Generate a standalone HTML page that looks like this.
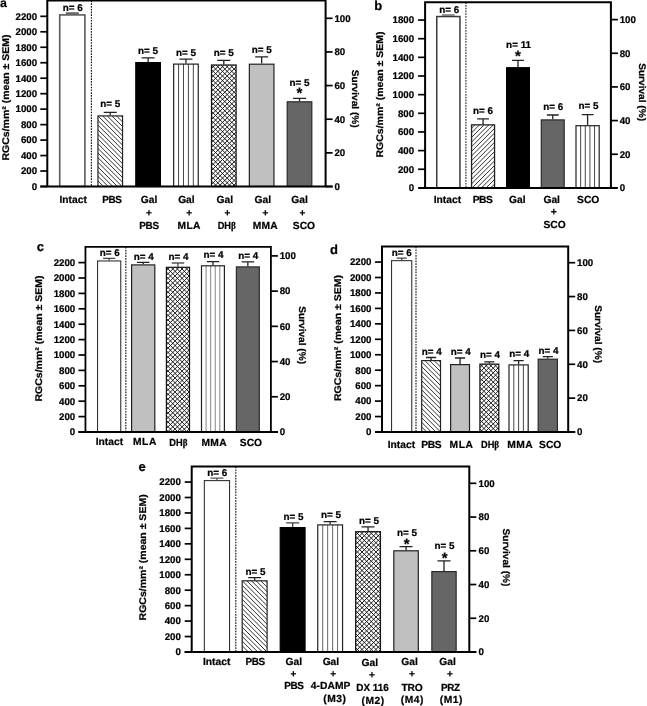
<!DOCTYPE html>
<html><head><meta charset="utf-8"><title>Figure</title>
<style>
html,body{margin:0;padding:0;background:#fff;}
body{width:647px;height:706px;overflow:hidden;}
svg{display:block;}
svg text{font-family:"Liberation Sans", Arial, sans-serif;font-weight:bold;fill:#000;stroke:#000;stroke-width:0.22px;text-rendering:geometricPrecision;}
</style></head><body>
<svg width="647" height="706" viewBox="0 0 647 706">
<rect width="647" height="706" fill="#fff"/>
<path d="M72.30 14.10V13.10M65.80 13.10H78.80" stroke="#666" stroke-width="1.8" fill="none"/>
<rect x="59.70" y="14.90" width="25.20" height="171.60" fill="#ffffff"/>
<rect x="59.70" y="14.90" width="25.20" height="171.60" fill="none" stroke="#5a5a5a" stroke-width="1.6"/>
<text x="72.70" y="10.60" font-size="9.9" text-anchor="middle" >n= 6</text>
<path d="M110.25 115.30V112.40M103.75 112.40H116.75" stroke="#222222" stroke-width="1.3" fill="none"/>
<rect x="97.95" y="115.90" width="24.60" height="70.60" fill="#ffffff"/>
<clipPath id="c1"><rect x="97.95" y="115.90" width="24.60" height="70.60"/></clipPath>
<path clip-path="url(#c1)" d="M26.75 114.30L99.95 187.50M31.39 114.30L104.59 187.50M36.03 114.30L109.23 187.50M40.67 114.30L113.87 187.50M45.31 114.30L118.51 187.50M49.95 114.30L123.15 187.50M54.59 114.30L127.79 187.50M59.23 114.30L132.43 187.50M63.87 114.30L137.07 187.50M68.51 114.30L141.71 187.50M73.15 114.30L146.35 187.50M77.79 114.30L150.99 187.50M82.43 114.30L155.63 187.50M87.07 114.30L160.27 187.50M91.71 114.30L164.91 187.50M96.35 114.30L169.55 187.50M100.99 114.30L174.19 187.50M105.63 114.30L178.83 187.50M110.27 114.30L183.47 187.50M114.91 114.30L188.11 187.50M119.55 114.30L192.75 187.50" stroke="#1a1a1a" stroke-width="0.9" fill="none"/>
<rect x="97.95" y="115.90" width="24.60" height="70.60" fill="none" stroke="#222222" stroke-width="1.2"/>
<text x="110.25" y="107.40" font-size="9.9" text-anchor="middle" >n= 5</text>
<path d="M148.10 62.00V57.80M141.60 57.80H154.60" stroke="#222222" stroke-width="1.3" fill="none"/>
<rect x="135.80" y="62.60" width="24.60" height="123.90" fill="#000000"/>
<rect x="135.80" y="62.60" width="24.60" height="123.90" fill="none" stroke="#000000" stroke-width="1.2"/>
<text x="148.10" y="53.80" font-size="9.9" text-anchor="middle" >n= 5</text>
<path d="M185.95 63.50V59.20M179.45 59.20H192.45" stroke="#222222" stroke-width="1.3" fill="none"/>
<rect x="173.65" y="64.10" width="24.60" height="122.40" fill="#ffffff"/>
<clipPath id="c2"><rect x="173.65" y="64.10" width="24.60" height="122.40"/></clipPath>
<path clip-path="url(#c2)" d="M178.57 63.50V186.50M183.49 63.50V186.50M188.41 63.50V186.50M193.33 63.50V186.50" stroke="#333" stroke-width="0.9" fill="none"/>
<rect x="173.65" y="64.10" width="24.60" height="122.40" fill="none" stroke="#222222" stroke-width="1.2"/>
<text x="185.95" y="55.60" font-size="9.9" text-anchor="middle" >n= 5</text>
<path d="M223.80 64.40V60.40M217.30 60.40H230.30" stroke="#222222" stroke-width="1.3" fill="none"/>
<rect x="211.50" y="65.00" width="24.60" height="121.50" fill="#ffffff"/>
<clipPath id="c3"><rect x="211.50" y="65.00" width="24.60" height="121.50"/></clipPath>
<path clip-path="url(#c3)" d="M89.26 63.40L213.36 187.50M93.90 63.40L218.00 187.50M98.54 63.40L222.64 187.50M103.18 63.40L227.28 187.50M107.82 63.40L231.92 187.50M112.46 63.40L236.56 187.50M117.10 63.40L241.20 187.50M121.74 63.40L245.84 187.50M126.38 63.40L250.48 187.50M131.02 63.40L255.12 187.50M135.66 63.40L259.76 187.50M140.30 63.40L264.40 187.50M144.94 63.40L269.04 187.50M149.58 63.40L273.68 187.50M154.22 63.40L278.32 187.50M158.86 63.40L282.96 187.50M163.50 63.40L287.60 187.50M168.14 63.40L292.24 187.50M172.78 63.40L296.88 187.50M177.42 63.40L301.52 187.50M182.06 63.40L306.16 187.50M186.70 63.40L310.80 187.50M191.34 63.40L315.44 187.50M195.98 63.40L320.08 187.50M200.62 63.40L324.72 187.50M205.26 63.40L329.36 187.50M209.90 63.40L334.00 187.50M214.54 63.40L338.64 187.50M219.18 63.40L343.28 187.50M223.82 63.40L347.92 187.50M228.46 63.40L352.56 187.50M233.10 63.40L357.20 187.50M211.90 63.40L87.80 187.50M216.54 63.40L92.44 187.50M221.18 63.40L97.08 187.50M225.82 63.40L101.72 187.50M230.46 63.40L106.36 187.50M235.10 63.40L111.00 187.50M239.74 63.40L115.64 187.50M244.38 63.40L120.28 187.50M249.02 63.40L124.92 187.50M253.66 63.40L129.56 187.50M258.30 63.40L134.20 187.50M262.94 63.40L138.84 187.50M267.58 63.40L143.48 187.50M272.22 63.40L148.12 187.50M276.86 63.40L152.76 187.50M281.50 63.40L157.40 187.50M286.14 63.40L162.04 187.50M290.78 63.40L166.68 187.50M295.42 63.40L171.32 187.50M300.06 63.40L175.96 187.50M304.70 63.40L180.60 187.50M309.34 63.40L185.24 187.50M313.98 63.40L189.88 187.50M318.62 63.40L194.52 187.50M323.26 63.40L199.16 187.50M327.90 63.40L203.80 187.50M332.54 63.40L208.44 187.50M337.18 63.40L213.08 187.50M341.82 63.40L217.72 187.50M346.46 63.40L222.36 187.50M351.10 63.40L227.00 187.50M355.74 63.40L231.64 187.50M360.38 63.40L236.28 187.50" stroke="#111" stroke-width="0.95" fill="none"/>
<rect x="211.50" y="65.00" width="24.60" height="121.50" fill="none" stroke="#111111" stroke-width="1.2"/>
<text x="223.80" y="56.20" font-size="9.9" text-anchor="middle" >n= 5</text>
<path d="M261.65 63.60V56.80M255.15 56.80H268.15" stroke="#222222" stroke-width="1.3" fill="none"/>
<rect x="249.35" y="64.20" width="24.60" height="122.30" fill="#c0c0c0"/>
<rect x="249.35" y="64.20" width="24.60" height="122.30" fill="none" stroke="#222222" stroke-width="1.2"/>
<text x="261.65" y="52.80" font-size="9.9" text-anchor="middle" >n= 5</text>
<path d="M299.50 101.20V98.30M293.00 98.30H306.00" stroke="#222222" stroke-width="1.3" fill="none"/>
<rect x="287.20" y="101.80" width="24.60" height="84.70" fill="#666666"/>
<rect x="287.20" y="101.80" width="24.60" height="84.70" fill="none" stroke="#2a2a2a" stroke-width="1.2"/>
<text x="299.50" y="86.00" font-size="9.9" text-anchor="middle" >n= 5</text>
<text x="299.50" y="98.00" font-size="15" text-anchor="middle" >*</text>
<line x1="91.40" y1="0.45" x2="91.40" y2="186.50" stroke="#111" stroke-width="1.1" stroke-dasharray="1.7 1.08"/>
<path d="M47.30 186.50V0.45H325.60V186.50" fill="none" stroke="#000" stroke-width="2.0" stroke-linejoin="miter"/>
<line x1="40.30" y1="186.50" x2="332.60" y2="186.50" stroke="#000" stroke-width="2.0"/>
<line x1="40.30" y1="186.50" x2="47.30" y2="186.50" stroke="#000" stroke-width="1.7"/>
<text x="37.10" y="189.80" font-size="9.7" text-anchor="end" >0</text>
<line x1="40.30" y1="171.03" x2="47.30" y2="171.03" stroke="#000" stroke-width="1.7"/>
<text x="37.10" y="174.33" font-size="9.7" text-anchor="end" >200</text>
<line x1="40.30" y1="155.56" x2="47.30" y2="155.56" stroke="#000" stroke-width="1.7"/>
<text x="37.10" y="158.86" font-size="9.7" text-anchor="end" >400</text>
<line x1="40.30" y1="140.09" x2="47.30" y2="140.09" stroke="#000" stroke-width="1.7"/>
<text x="37.10" y="143.39" font-size="9.7" text-anchor="end" >600</text>
<line x1="40.30" y1="124.62" x2="47.30" y2="124.62" stroke="#000" stroke-width="1.7"/>
<text x="37.10" y="127.92" font-size="9.7" text-anchor="end" >800</text>
<line x1="40.30" y1="109.15" x2="47.30" y2="109.15" stroke="#000" stroke-width="1.7"/>
<text x="37.10" y="112.45" font-size="9.7" text-anchor="end" >1000</text>
<line x1="40.30" y1="93.68" x2="47.30" y2="93.68" stroke="#000" stroke-width="1.7"/>
<text x="37.10" y="96.98" font-size="9.7" text-anchor="end" >1200</text>
<line x1="40.30" y1="78.21" x2="47.30" y2="78.21" stroke="#000" stroke-width="1.7"/>
<text x="37.10" y="81.51" font-size="9.7" text-anchor="end" >1400</text>
<line x1="40.30" y1="62.74" x2="47.30" y2="62.74" stroke="#000" stroke-width="1.7"/>
<text x="37.10" y="66.04" font-size="9.7" text-anchor="end" >1600</text>
<line x1="40.30" y1="47.27" x2="47.30" y2="47.27" stroke="#000" stroke-width="1.7"/>
<text x="37.10" y="50.57" font-size="9.7" text-anchor="end" >1800</text>
<line x1="40.30" y1="31.80" x2="47.30" y2="31.80" stroke="#000" stroke-width="1.7"/>
<text x="37.10" y="35.10" font-size="9.7" text-anchor="end" >2000</text>
<line x1="40.30" y1="16.33" x2="47.30" y2="16.33" stroke="#000" stroke-width="1.7"/>
<text x="37.10" y="19.63" font-size="9.7" text-anchor="end" >2200</text>
<line x1="325.60" y1="186.50" x2="332.60" y2="186.50" stroke="#000" stroke-width="1.7"/>
<text x="334.40" y="189.80" font-size="9.7" text-anchor="start" >0</text>
<line x1="325.60" y1="152.86" x2="332.60" y2="152.86" stroke="#000" stroke-width="1.7"/>
<text x="334.40" y="156.16" font-size="9.7" text-anchor="start" >20</text>
<line x1="325.60" y1="119.22" x2="332.60" y2="119.22" stroke="#000" stroke-width="1.7"/>
<text x="334.40" y="122.52" font-size="9.7" text-anchor="start" >40</text>
<line x1="325.60" y1="85.58" x2="332.60" y2="85.58" stroke="#000" stroke-width="1.7"/>
<text x="334.40" y="88.88" font-size="9.7" text-anchor="start" >60</text>
<line x1="325.60" y1="51.94" x2="332.60" y2="51.94" stroke="#000" stroke-width="1.7"/>
<text x="334.40" y="55.24" font-size="9.7" text-anchor="start" >80</text>
<line x1="325.60" y1="18.30" x2="332.60" y2="18.30" stroke="#000" stroke-width="1.7"/>
<text x="334.40" y="21.60" font-size="9.7" text-anchor="start" >100</text>
<text transform="translate(8.60 97.50) rotate(-90) scale(1.085 1)" font-size="9.7" text-anchor="middle">RGCs/mm² (mean ± SEM)</text>
<text transform="translate(352.30 98.70) rotate(90) scale(1.045 1)" font-size="9.7" text-anchor="middle">Survival (%)</text>
<text x="0.00" y="6.90" font-size="12.3" text-anchor="start" >a</text>
<text x="73.20" y="203.10" font-size="10.25" text-anchor="middle" >Intact</text>
<text transform="translate(111.80 203.00) scale(0.97 1)" font-size="10.25" text-anchor="middle" letter-spacing="-0.4">PBS</text>
<text x="149.00" y="203.30" font-size="10.25" text-anchor="middle" >Gal</text>
<text x="148.80" y="215.80" font-size="10.0" text-anchor="middle" >+</text>
<text transform="translate(149.00 229.00) scale(0.97 1)" font-size="10.25" text-anchor="middle" letter-spacing="-0.4">PBS</text>
<text x="186.40" y="203.30" font-size="10.25" text-anchor="middle" >Gal</text>
<text x="189.20" y="215.80" font-size="10.0" text-anchor="middle" >+</text>
<text x="189.20" y="229.00" font-size="10.25" text-anchor="middle" letter-spacing="0.45">MLA</text>
<text x="224.85" y="203.30" font-size="10.25" text-anchor="middle" >Gal</text>
<text x="227.45" y="215.80" font-size="10.0" text-anchor="middle" >+</text>
<text transform="translate(226.80 229.30) scale(0.9 1)" font-size="10.25" text-anchor="middle" >DH<tspan font-family="Liberation Serif, DejaVu Serif, serif">β</tspan></text>
<text x="262.80" y="202.70" font-size="10.25" text-anchor="middle" >Gal</text>
<text x="265.30" y="215.50" font-size="10.0" text-anchor="middle" >+</text>
<text x="265.35" y="228.70" font-size="10.25" text-anchor="middle" letter-spacing="0.3">MMA</text>
<text x="299.50" y="202.70" font-size="10.25" text-anchor="middle" >Gal</text>
<text x="302.40" y="215.50" font-size="10.0" text-anchor="middle" >+</text>
<text x="303.95" y="228.80" font-size="10.25" text-anchor="middle" >SCO</text>
<path d="M448.35 15.80V15.00M442.05 15.00H454.65" stroke="#777" stroke-width="1.5" fill="none"/>
<rect x="436.75" y="16.55" width="23.20" height="171.35" fill="#ffffff"/>
<rect x="436.75" y="16.55" width="23.20" height="171.35" fill="none" stroke="#3a3a3a" stroke-width="1.5"/>
<text x="449.35" y="12.90" font-size="9.9" text-anchor="middle" >n= 6</text>
<path d="M483.05 124.20V118.80M477.15 118.80H488.95" stroke="#222222" stroke-width="1.3" fill="none"/>
<rect x="471.55" y="124.85" width="23.00" height="63.05" fill="#ffffff"/>
<clipPath id="c4"><rect x="471.55" y="124.85" width="23.00" height="63.05"/></clipPath>
<path clip-path="url(#c4)" d="M471.86 123.20L406.16 188.90M476.50 123.20L410.80 188.90M481.14 123.20L415.44 188.90M485.78 123.20L420.08 188.90M490.42 123.20L424.72 188.90M495.06 123.20L429.36 188.90M499.70 123.20L434.00 188.90M504.34 123.20L438.64 188.90M508.98 123.20L443.28 188.90M513.62 123.20L447.92 188.90M518.26 123.20L452.56 188.90M522.90 123.20L457.20 188.90M527.54 123.20L461.84 188.90M532.18 123.20L466.48 188.90M536.82 123.20L471.12 188.90M541.46 123.20L475.76 188.90M546.10 123.20L480.40 188.90M550.74 123.20L485.04 188.90M555.38 123.20L489.68 188.90M560.02 123.20L494.32 188.90" stroke="#1a1a1a" stroke-width="0.9" fill="none"/>
<rect x="471.55" y="124.85" width="23.00" height="63.05" fill="none" stroke="#222222" stroke-width="1.3"/>
<text x="483.05" y="114.00" font-size="9.9" text-anchor="middle" >n= 6</text>
<path d="M518.00 67.10V60.40M512.10 60.40H523.90" stroke="#222222" stroke-width="1.3" fill="none"/>
<rect x="506.60" y="67.70" width="22.80" height="120.20" fill="#000000"/>
<rect x="506.60" y="67.70" width="22.80" height="120.20" fill="none" stroke="#000000" stroke-width="1.2"/>
<text x="518.60" y="48.20" font-size="9.9" text-anchor="middle" >n= 11</text>
<text x="518.00" y="60.60" font-size="15" text-anchor="middle" >*</text>
<path d="M552.75 119.30V115.00M546.85 115.00H558.65" stroke="#222222" stroke-width="1.3" fill="none"/>
<rect x="541.30" y="119.90" width="22.90" height="68.00" fill="#666666"/>
<rect x="541.30" y="119.90" width="22.90" height="68.00" fill="none" stroke="#2a2a2a" stroke-width="1.2"/>
<text x="553.35" y="110.00" font-size="9.9" text-anchor="middle" >n= 6</text>
<path d="M587.60 125.10V114.60M581.70 114.60H593.50" stroke="#222222" stroke-width="1.3" fill="none"/>
<rect x="576.00" y="125.70" width="23.20" height="62.20" fill="#ffffff"/>
<clipPath id="c5"><rect x="576.00" y="125.70" width="23.20" height="62.20"/></clipPath>
<path clip-path="url(#c5)" d="M580.64 125.10V187.90M585.28 125.10V187.90M589.92 125.10V187.90M594.56 125.10V187.90" stroke="#333" stroke-width="0.9" fill="none"/>
<rect x="576.00" y="125.70" width="23.20" height="62.20" fill="none" stroke="#222222" stroke-width="1.2"/>
<text x="588.40" y="109.30" font-size="9.9" text-anchor="middle" >n= 5</text>
<line x1="465.90" y1="2.20" x2="465.90" y2="187.90" stroke="#555" stroke-width="1.4" stroke-dasharray="1.7 1.08"/>
<path d="M425.10 187.90V2.20H610.90V187.90" fill="none" stroke="#000" stroke-width="2.0" stroke-linejoin="miter"/>
<line x1="418.70" y1="187.90" x2="617.30" y2="187.90" stroke="#000" stroke-width="2.0"/>
<line x1="418.10" y1="187.90" x2="425.10" y2="187.90" stroke="#000" stroke-width="1.7"/>
<text x="414.10" y="191.20" font-size="9.7" text-anchor="end" >0</text>
<line x1="418.10" y1="169.25" x2="425.10" y2="169.25" stroke="#000" stroke-width="1.7"/>
<text x="414.10" y="172.55" font-size="9.7" text-anchor="end" >200</text>
<line x1="418.10" y1="150.60" x2="425.10" y2="150.60" stroke="#000" stroke-width="1.7"/>
<text x="414.10" y="153.90" font-size="9.7" text-anchor="end" >400</text>
<line x1="418.10" y1="131.95" x2="425.10" y2="131.95" stroke="#000" stroke-width="1.7"/>
<text x="414.10" y="135.25" font-size="9.7" text-anchor="end" >600</text>
<line x1="418.10" y1="113.30" x2="425.10" y2="113.30" stroke="#000" stroke-width="1.7"/>
<text x="414.10" y="116.60" font-size="9.7" text-anchor="end" >800</text>
<line x1="418.10" y1="94.65" x2="425.10" y2="94.65" stroke="#000" stroke-width="1.7"/>
<text x="414.10" y="97.95" font-size="9.7" text-anchor="end" >1000</text>
<line x1="418.10" y1="76.00" x2="425.10" y2="76.00" stroke="#000" stroke-width="1.7"/>
<text x="414.10" y="79.30" font-size="9.7" text-anchor="end" >1200</text>
<line x1="418.10" y1="57.35" x2="425.10" y2="57.35" stroke="#000" stroke-width="1.7"/>
<text x="414.10" y="60.65" font-size="9.7" text-anchor="end" >1400</text>
<line x1="418.10" y1="38.70" x2="425.10" y2="38.70" stroke="#000" stroke-width="1.7"/>
<text x="414.10" y="42.00" font-size="9.7" text-anchor="end" >1600</text>
<line x1="418.10" y1="20.05" x2="425.10" y2="20.05" stroke="#000" stroke-width="1.7"/>
<text x="414.10" y="23.35" font-size="9.7" text-anchor="end" >1800</text>
<line x1="610.90" y1="187.90" x2="617.90" y2="187.90" stroke="#000" stroke-width="1.7"/>
<text x="619.70" y="191.20" font-size="9.7" text-anchor="start" >0</text>
<line x1="610.90" y1="154.24" x2="617.90" y2="154.24" stroke="#000" stroke-width="1.7"/>
<text x="619.70" y="157.54" font-size="9.7" text-anchor="start" >20</text>
<line x1="610.90" y1="120.58" x2="617.90" y2="120.58" stroke="#000" stroke-width="1.7"/>
<text x="619.70" y="123.88" font-size="9.7" text-anchor="start" >40</text>
<line x1="610.90" y1="86.92" x2="617.90" y2="86.92" stroke="#000" stroke-width="1.7"/>
<text x="619.70" y="90.22" font-size="9.7" text-anchor="start" >60</text>
<line x1="610.90" y1="53.26" x2="617.90" y2="53.26" stroke="#000" stroke-width="1.7"/>
<text x="619.70" y="56.56" font-size="9.7" text-anchor="start" >80</text>
<line x1="610.90" y1="19.60" x2="617.90" y2="19.60" stroke="#000" stroke-width="1.7"/>
<text x="619.70" y="22.90" font-size="9.7" text-anchor="start" >100</text>
<text transform="translate(383.10 94.50) rotate(-90) scale(1.085 1)" font-size="9.7" text-anchor="middle">RGCs/mm² (mean ± SEM)</text>
<text transform="translate(638.60 92.10) rotate(90) scale(1.045 1)" font-size="9.7" text-anchor="middle">Survival (%)</text>
<text x="374.30" y="9.90" font-size="13" text-anchor="start" >b</text>
<text x="447.40" y="203.00" font-size="10.25" text-anchor="middle" >Intact</text>
<text x="482.60" y="203.00" font-size="10.25" text-anchor="middle" letter-spacing="-0.4">PBS</text>
<text x="517.30" y="203.00" font-size="10.25" text-anchor="middle" >Gal</text>
<text x="551.70" y="202.60" font-size="10.25" text-anchor="middle" >Gal</text>
<text x="553.70" y="215.30" font-size="10.25" text-anchor="middle" >+</text>
<text x="554.50" y="228.00" font-size="10.25" text-anchor="middle" >SCO</text>
<text x="588.20" y="202.60" font-size="10.25" text-anchor="middle" >SCO</text>
<path d="M109.15 260.40V258.40M103.15 258.40H115.15" stroke="#444" stroke-width="1.3" fill="none"/>
<rect x="97.55" y="260.95" width="23.20" height="171.05" fill="#ffffff"/>
<rect x="97.55" y="260.95" width="23.20" height="171.05" fill="none" stroke="#333" stroke-width="1.1"/>
<text x="109.65" y="256.10" font-size="9.9" text-anchor="middle" >n= 6</text>
<path d="M143.20 264.30V262.40M136.95 262.40H149.45" stroke="#222222" stroke-width="1.3" fill="none"/>
<rect x="131.60" y="264.90" width="23.20" height="167.10" fill="#c0c0c0"/>
<rect x="131.60" y="264.90" width="23.20" height="167.10" fill="none" stroke="#222222" stroke-width="1.2"/>
<text x="143.70" y="259.80" font-size="9.9" text-anchor="middle" >n= 4</text>
<path d="M177.95 266.70V263.00M171.70 263.00H184.20" stroke="#555" stroke-width="1.3" fill="none"/>
<rect x="166.40" y="267.30" width="23.10" height="164.70" fill="#ffffff"/>
<clipPath id="c6"><rect x="166.40" y="267.30" width="23.10" height="164.70"/></clipPath>
<path clip-path="url(#c6)" d="M-2.24 265.70L165.06 433.00M2.40 265.70L169.70 433.00M7.04 265.70L174.34 433.00M11.68 265.70L178.98 433.00M16.32 265.70L183.62 433.00M20.96 265.70L188.26 433.00M25.60 265.70L192.90 433.00M30.24 265.70L197.54 433.00M34.88 265.70L202.18 433.00M39.52 265.70L206.82 433.00M44.16 265.70L211.46 433.00M48.80 265.70L216.10 433.00M53.44 265.70L220.74 433.00M58.08 265.70L225.38 433.00M62.72 265.70L230.02 433.00M67.36 265.70L234.66 433.00M72.00 265.70L239.30 433.00M76.64 265.70L243.94 433.00M81.28 265.70L248.58 433.00M85.92 265.70L253.22 433.00M90.56 265.70L257.86 433.00M95.20 265.70L262.50 433.00M99.84 265.70L267.14 433.00M104.48 265.70L271.78 433.00M109.12 265.70L276.42 433.00M113.76 265.70L281.06 433.00M118.40 265.70L285.70 433.00M123.04 265.70L290.34 433.00M127.68 265.70L294.98 433.00M132.32 265.70L299.62 433.00M136.96 265.70L304.26 433.00M141.60 265.70L308.90 433.00M146.24 265.70L313.54 433.00M150.88 265.70L318.18 433.00M155.52 265.70L322.82 433.00M160.16 265.70L327.46 433.00M164.80 265.70L332.10 433.00M169.44 265.70L336.74 433.00M174.08 265.70L341.38 433.00M178.72 265.70L346.02 433.00M183.36 265.70L350.66 433.00M188.00 265.70L355.30 433.00M166.80 265.70L-0.50 433.00M171.44 265.70L4.14 433.00M176.08 265.70L8.78 433.00M180.72 265.70L13.42 433.00M185.36 265.70L18.06 433.00M190.00 265.70L22.70 433.00M194.64 265.70L27.34 433.00M199.28 265.70L31.98 433.00M203.92 265.70L36.62 433.00M208.56 265.70L41.26 433.00M213.20 265.70L45.90 433.00M217.84 265.70L50.54 433.00M222.48 265.70L55.18 433.00M227.12 265.70L59.82 433.00M231.76 265.70L64.46 433.00M236.40 265.70L69.10 433.00M241.04 265.70L73.74 433.00M245.68 265.70L78.38 433.00M250.32 265.70L83.02 433.00M254.96 265.70L87.66 433.00M259.60 265.70L92.30 433.00M264.24 265.70L96.94 433.00M268.88 265.70L101.58 433.00M273.52 265.70L106.22 433.00M278.16 265.70L110.86 433.00M282.80 265.70L115.50 433.00M287.44 265.70L120.14 433.00M292.08 265.70L124.78 433.00M296.72 265.70L129.42 433.00M301.36 265.70L134.06 433.00M306.00 265.70L138.70 433.00M310.64 265.70L143.34 433.00M315.28 265.70L147.98 433.00M319.92 265.70L152.62 433.00M324.56 265.70L157.26 433.00M329.20 265.70L161.90 433.00M333.84 265.70L166.54 433.00M338.48 265.70L171.18 433.00M343.12 265.70L175.82 433.00M347.76 265.70L180.46 433.00M352.40 265.70L185.10 433.00M357.04 265.70L189.74 433.00" stroke="#111" stroke-width="0.95" fill="none"/>
<rect x="166.40" y="267.30" width="23.10" height="164.70" fill="none" stroke="#111111" stroke-width="1.2"/>
<text x="178.45" y="260.30" font-size="9.9" text-anchor="middle" >n= 4</text>
<path d="M212.95 265.20V261.60M206.70 261.60H219.20" stroke="#222222" stroke-width="1.3" fill="none"/>
<rect x="201.50" y="265.80" width="22.90" height="166.20" fill="#ffffff"/>
<clipPath id="c7"><rect x="201.50" y="265.80" width="22.90" height="166.20"/></clipPath>
<path clip-path="url(#c7)" d="M206.08 265.20V432.00M210.66 265.20V432.00M215.24 265.20V432.00M219.82 265.20V432.00" stroke="#777" stroke-width="0.9" fill="none"/>
<rect x="201.50" y="265.80" width="22.90" height="166.20" fill="none" stroke="#222222" stroke-width="1.2"/>
<text x="213.45" y="258.40" font-size="9.9" text-anchor="middle" >n= 4</text>
<path d="M247.85 266.30V261.80M241.60 261.80H254.10" stroke="#222222" stroke-width="1.3" fill="none"/>
<rect x="236.40" y="266.90" width="22.90" height="165.10" fill="#666666"/>
<rect x="236.40" y="266.90" width="22.90" height="165.10" fill="none" stroke="#2a2a2a" stroke-width="1.2"/>
<text x="248.35" y="259.20" font-size="9.9" text-anchor="middle" >n= 4</text>
<line x1="125.80" y1="246.90" x2="125.80" y2="432.00" stroke="#333" stroke-width="1.3" stroke-dasharray="1.7 1.08"/>
<path d="M85.45 432.00V246.90H270.90V432.00" fill="none" stroke="#000" stroke-width="1.8" stroke-linejoin="miter"/>
<line x1="78.45" y1="432.00" x2="277.90" y2="432.00" stroke="#000" stroke-width="1.8"/>
<line x1="78.45" y1="432.00" x2="85.45" y2="432.00" stroke="#000" stroke-width="1.7"/>
<text x="75.25" y="435.30" font-size="9.7" text-anchor="end" >0</text>
<line x1="78.45" y1="416.60" x2="85.45" y2="416.60" stroke="#000" stroke-width="1.7"/>
<text x="75.25" y="419.90" font-size="9.7" text-anchor="end" >200</text>
<line x1="78.45" y1="401.20" x2="85.45" y2="401.20" stroke="#000" stroke-width="1.7"/>
<text x="75.25" y="404.50" font-size="9.7" text-anchor="end" >400</text>
<line x1="78.45" y1="385.80" x2="85.45" y2="385.80" stroke="#000" stroke-width="1.7"/>
<text x="75.25" y="389.10" font-size="9.7" text-anchor="end" >600</text>
<line x1="78.45" y1="370.40" x2="85.45" y2="370.40" stroke="#000" stroke-width="1.7"/>
<text x="75.25" y="373.70" font-size="9.7" text-anchor="end" >800</text>
<line x1="78.45" y1="355.00" x2="85.45" y2="355.00" stroke="#000" stroke-width="1.7"/>
<text x="75.25" y="358.30" font-size="9.7" text-anchor="end" >1000</text>
<line x1="78.45" y1="339.60" x2="85.45" y2="339.60" stroke="#000" stroke-width="1.7"/>
<text x="75.25" y="342.90" font-size="9.7" text-anchor="end" >1200</text>
<line x1="78.45" y1="324.20" x2="85.45" y2="324.20" stroke="#000" stroke-width="1.7"/>
<text x="75.25" y="327.50" font-size="9.7" text-anchor="end" >1400</text>
<line x1="78.45" y1="308.80" x2="85.45" y2="308.80" stroke="#000" stroke-width="1.7"/>
<text x="75.25" y="312.10" font-size="9.7" text-anchor="end" >1600</text>
<line x1="78.45" y1="293.40" x2="85.45" y2="293.40" stroke="#000" stroke-width="1.7"/>
<text x="75.25" y="296.70" font-size="9.7" text-anchor="end" >1800</text>
<line x1="78.45" y1="278.00" x2="85.45" y2="278.00" stroke="#000" stroke-width="1.7"/>
<text x="75.25" y="281.30" font-size="9.7" text-anchor="end" >2000</text>
<line x1="78.45" y1="262.60" x2="85.45" y2="262.60" stroke="#000" stroke-width="1.7"/>
<text x="75.25" y="265.90" font-size="9.7" text-anchor="end" >2200</text>
<line x1="270.90" y1="432.00" x2="277.90" y2="432.00" stroke="#000" stroke-width="1.7"/>
<text x="279.70" y="435.30" font-size="9.7" text-anchor="start" >0</text>
<line x1="270.90" y1="396.78" x2="277.90" y2="396.78" stroke="#000" stroke-width="1.7"/>
<text x="279.70" y="400.08" font-size="9.7" text-anchor="start" >20</text>
<line x1="270.90" y1="361.56" x2="277.90" y2="361.56" stroke="#000" stroke-width="1.7"/>
<text x="279.70" y="364.86" font-size="9.7" text-anchor="start" >40</text>
<line x1="270.90" y1="326.34" x2="277.90" y2="326.34" stroke="#000" stroke-width="1.7"/>
<text x="279.70" y="329.64" font-size="9.7" text-anchor="start" >60</text>
<line x1="270.90" y1="291.12" x2="277.90" y2="291.12" stroke="#000" stroke-width="1.7"/>
<text x="279.70" y="294.42" font-size="9.7" text-anchor="start" >80</text>
<line x1="270.90" y1="255.90" x2="277.90" y2="255.90" stroke="#000" stroke-width="1.7"/>
<text x="279.70" y="259.20" font-size="9.7" text-anchor="start" >100</text>
<text transform="translate(41.60 338.50) rotate(-90) scale(1.085 1)" font-size="9.7" text-anchor="middle">RGCs/mm² (mean ± SEM)</text>
<text transform="translate(299.00 335.10) rotate(90) scale(1.045 1)" font-size="9.7" text-anchor="middle">Survival (%)</text>
<text x="36.80" y="251.30" font-size="13" text-anchor="start" >c</text>
<text x="109.40" y="445.30" font-size="10.25" text-anchor="middle" >Intact</text>
<text x="145.00" y="445.20" font-size="10.25" text-anchor="middle" letter-spacing="0.6">MLA</text>
<text transform="translate(178.40 446.00) scale(0.9 1)" font-size="10.25" text-anchor="middle" >DH<tspan font-family="Liberation Serif, DejaVu Serif, serif">β</tspan></text>
<text x="214.20" y="445.50" font-size="10.25" text-anchor="middle" letter-spacing="0.3">MMA</text>
<text x="250.95" y="445.70" font-size="10.25" text-anchor="middle" >SCO</text>
<path d="M401.65 260.10V258.20M396.65 258.20H406.65" stroke="#444" stroke-width="1.3" fill="none"/>
<rect x="391.55" y="260.65" width="20.20" height="171.35" fill="#ffffff"/>
<rect x="391.55" y="260.65" width="20.20" height="171.35" fill="none" stroke="#333" stroke-width="1.1"/>
<text x="401.65" y="255.90" font-size="9.9" text-anchor="middle" >n= 6</text>
<path d="M431.10 360.00V357.50M426.00 357.50H436.20" stroke="#222222" stroke-width="1.3" fill="none"/>
<rect x="421.70" y="360.60" width="18.80" height="71.40" fill="#ffffff"/>
<clipPath id="c8"><rect x="421.70" y="360.60" width="18.80" height="71.40"/></clipPath>
<path clip-path="url(#c8)" d="M349.05 359.00L423.05 433.00M353.69 359.00L427.69 433.00M358.33 359.00L432.33 433.00M362.97 359.00L436.97 433.00M367.61 359.00L441.61 433.00M372.25 359.00L446.25 433.00M376.89 359.00L450.89 433.00M381.53 359.00L455.53 433.00M386.17 359.00L460.17 433.00M390.81 359.00L464.81 433.00M395.45 359.00L469.45 433.00M400.09 359.00L474.09 433.00M404.73 359.00L478.73 433.00M409.37 359.00L483.37 433.00M414.01 359.00L488.01 433.00M418.65 359.00L492.65 433.00M423.29 359.00L497.29 433.00M427.93 359.00L501.93 433.00M432.57 359.00L506.57 433.00M437.21 359.00L511.21 433.00M441.85 359.00L515.85 433.00" stroke="#1a1a1a" stroke-width="0.9" fill="none"/>
<rect x="421.70" y="360.60" width="18.80" height="71.40" fill="none" stroke="#222222" stroke-width="1.2"/>
<text x="431.70" y="355.40" font-size="9.9" text-anchor="middle" >n= 4</text>
<path d="M460.05 364.00V358.00M454.95 358.00H465.15" stroke="#222222" stroke-width="1.3" fill="none"/>
<rect x="450.60" y="364.60" width="18.90" height="67.40" fill="#c0c0c0"/>
<rect x="450.60" y="364.60" width="18.90" height="67.40" fill="none" stroke="#222222" stroke-width="1.2"/>
<text x="460.65" y="355.00" font-size="9.9" text-anchor="middle" >n= 4</text>
<path d="M489.35 363.50V361.80M484.25 361.80H494.45" stroke="#222222" stroke-width="1.3" fill="none"/>
<rect x="479.90" y="364.10" width="18.90" height="67.90" fill="#ffffff"/>
<clipPath id="c9"><rect x="479.90" y="364.10" width="18.90" height="67.90"/></clipPath>
<path clip-path="url(#c9)" d="M408.70 362.50L479.20 433.00M413.34 362.50L483.84 433.00M417.98 362.50L488.48 433.00M422.62 362.50L493.12 433.00M427.26 362.50L497.76 433.00M431.90 362.50L502.40 433.00M436.54 362.50L507.04 433.00M441.18 362.50L511.68 433.00M445.82 362.50L516.32 433.00M450.46 362.50L520.96 433.00M455.10 362.50L525.60 433.00M459.74 362.50L530.24 433.00M464.38 362.50L534.88 433.00M469.02 362.50L539.52 433.00M473.66 362.50L544.16 433.00M478.30 362.50L548.80 433.00M482.94 362.50L553.44 433.00M487.58 362.50L558.08 433.00M492.22 362.50L562.72 433.00M496.86 362.50L567.36 433.00M480.30 362.50L409.80 433.00M484.94 362.50L414.44 433.00M489.58 362.50L419.08 433.00M494.22 362.50L423.72 433.00M498.86 362.50L428.36 433.00M503.50 362.50L433.00 433.00M508.14 362.50L437.64 433.00M512.78 362.50L442.28 433.00M517.42 362.50L446.92 433.00M522.06 362.50L451.56 433.00M526.70 362.50L456.20 433.00M531.34 362.50L460.84 433.00M535.98 362.50L465.48 433.00M540.62 362.50L470.12 433.00M545.26 362.50L474.76 433.00M549.90 362.50L479.40 433.00M554.54 362.50L484.04 433.00M559.18 362.50L488.68 433.00M563.82 362.50L493.32 433.00M568.46 362.50L497.96 433.00" stroke="#111" stroke-width="0.95" fill="none"/>
<rect x="479.90" y="364.10" width="18.90" height="67.90" fill="none" stroke="#111111" stroke-width="1.2"/>
<text x="489.95" y="358.20" font-size="9.9" text-anchor="middle" >n= 4</text>
<path d="M518.60 364.30V360.60M513.50 360.60H523.70" stroke="#222222" stroke-width="1.3" fill="none"/>
<rect x="509.00" y="364.90" width="19.20" height="67.10" fill="#ffffff"/>
<clipPath id="c10"><rect x="509.00" y="364.90" width="19.20" height="67.10"/></clipPath>
<path clip-path="url(#c10)" d="M513.80 364.30V432.00M518.60 364.30V432.00M523.40 364.30V432.00" stroke="#333" stroke-width="0.9" fill="none"/>
<rect x="509.00" y="364.90" width="19.20" height="67.10" fill="none" stroke="#222222" stroke-width="1.2"/>
<text x="519.20" y="357.40" font-size="9.9" text-anchor="middle" >n= 4</text>
<path d="M547.80 358.60V356.70M542.70 356.70H552.90" stroke="#222222" stroke-width="1.3" fill="none"/>
<rect x="538.20" y="359.20" width="19.20" height="72.80" fill="#666666"/>
<rect x="538.20" y="359.20" width="19.20" height="72.80" fill="none" stroke="#2a2a2a" stroke-width="1.2"/>
<text x="548.40" y="354.00" font-size="9.9" text-anchor="middle" >n= 4</text>
<line x1="416.00" y1="246.60" x2="416.00" y2="432.00" stroke="#5a5a5a" stroke-width="1.6" stroke-dasharray="1.7 1.08"/>
<path d="M382.00 432.00V246.60H568.20V432.00" fill="none" stroke="#000" stroke-width="2.0" stroke-linejoin="miter"/>
<line x1="375.00" y1="432.00" x2="575.20" y2="432.00" stroke="#000" stroke-width="2.0"/>
<line x1="375.00" y1="432.00" x2="382.00" y2="432.00" stroke="#000" stroke-width="1.7"/>
<text x="371.50" y="435.30" font-size="9.7" text-anchor="end" >0</text>
<line x1="375.00" y1="416.55" x2="382.00" y2="416.55" stroke="#000" stroke-width="1.7"/>
<text x="371.50" y="419.85" font-size="9.7" text-anchor="end" >200</text>
<line x1="375.00" y1="401.10" x2="382.00" y2="401.10" stroke="#000" stroke-width="1.7"/>
<text x="371.50" y="404.40" font-size="9.7" text-anchor="end" >400</text>
<line x1="375.00" y1="385.65" x2="382.00" y2="385.65" stroke="#000" stroke-width="1.7"/>
<text x="371.50" y="388.95" font-size="9.7" text-anchor="end" >600</text>
<line x1="375.00" y1="370.20" x2="382.00" y2="370.20" stroke="#000" stroke-width="1.7"/>
<text x="371.50" y="373.50" font-size="9.7" text-anchor="end" >800</text>
<line x1="375.00" y1="354.75" x2="382.00" y2="354.75" stroke="#000" stroke-width="1.7"/>
<text x="371.50" y="358.05" font-size="9.7" text-anchor="end" >1000</text>
<line x1="375.00" y1="339.30" x2="382.00" y2="339.30" stroke="#000" stroke-width="1.7"/>
<text x="371.50" y="342.60" font-size="9.7" text-anchor="end" >1200</text>
<line x1="375.00" y1="323.85" x2="382.00" y2="323.85" stroke="#000" stroke-width="1.7"/>
<text x="371.50" y="327.15" font-size="9.7" text-anchor="end" >1400</text>
<line x1="375.00" y1="308.40" x2="382.00" y2="308.40" stroke="#000" stroke-width="1.7"/>
<text x="371.50" y="311.70" font-size="9.7" text-anchor="end" >1600</text>
<line x1="375.00" y1="292.95" x2="382.00" y2="292.95" stroke="#000" stroke-width="1.7"/>
<text x="371.50" y="296.25" font-size="9.7" text-anchor="end" >1800</text>
<line x1="375.00" y1="277.50" x2="382.00" y2="277.50" stroke="#000" stroke-width="1.7"/>
<text x="371.50" y="280.80" font-size="9.7" text-anchor="end" >2000</text>
<line x1="375.00" y1="262.05" x2="382.00" y2="262.05" stroke="#000" stroke-width="1.7"/>
<text x="371.50" y="265.35" font-size="9.7" text-anchor="end" >2200</text>
<line x1="568.20" y1="432.00" x2="575.20" y2="432.00" stroke="#000" stroke-width="1.7"/>
<text x="577.00" y="435.30" font-size="9.7" text-anchor="start" >0</text>
<line x1="568.20" y1="398.14" x2="575.20" y2="398.14" stroke="#000" stroke-width="1.7"/>
<text x="577.00" y="401.44" font-size="9.7" text-anchor="start" >20</text>
<line x1="568.20" y1="364.28" x2="575.20" y2="364.28" stroke="#000" stroke-width="1.7"/>
<text x="577.00" y="367.58" font-size="9.7" text-anchor="start" >40</text>
<line x1="568.20" y1="330.42" x2="575.20" y2="330.42" stroke="#000" stroke-width="1.7"/>
<text x="577.00" y="333.72" font-size="9.7" text-anchor="start" >60</text>
<line x1="568.20" y1="296.56" x2="575.20" y2="296.56" stroke="#000" stroke-width="1.7"/>
<text x="577.00" y="299.86" font-size="9.7" text-anchor="start" >80</text>
<line x1="568.20" y1="262.70" x2="575.20" y2="262.70" stroke="#000" stroke-width="1.7"/>
<text x="577.00" y="266.00" font-size="9.7" text-anchor="start" >100</text>
<text transform="translate(341.30 338.00) rotate(-90) scale(1.085 1)" font-size="9.7" text-anchor="middle">RGCs/mm² (mean ± SEM)</text>
<text transform="translate(594.90 334.10) rotate(90) scale(1.045 1)" font-size="9.7" text-anchor="middle">Survival (%)</text>
<text x="330.00" y="254.30" font-size="13" text-anchor="start" >d</text>
<text x="401.40" y="447.90" font-size="10.25" text-anchor="middle" >Intact</text>
<text x="431.30" y="447.90" font-size="10.25" text-anchor="middle" letter-spacing="-0.3">PBS</text>
<text x="461.60" y="447.90" font-size="10.25" text-anchor="middle" letter-spacing="0.6">MLA</text>
<text transform="translate(490.10 448.40) scale(0.9 1)" font-size="10.25" text-anchor="middle" >DH<tspan font-family="Liberation Serif, DejaVu Serif, serif">β</tspan></text>
<text x="520.30" y="447.90" font-size="10.25" text-anchor="middle" letter-spacing="0.5">MMA</text>
<text x="550.20" y="447.90" font-size="10.25" text-anchor="middle" >SCO</text>
<path d="M216.95 480.05V478.20M210.45 478.20H223.45" stroke="#555" stroke-width="1.3" fill="none"/>
<rect x="204.35" y="480.60" width="25.20" height="171.40" fill="#ffffff"/>
<rect x="204.35" y="480.60" width="25.20" height="171.40" fill="none" stroke="#333" stroke-width="1.1"/>
<text x="217.25" y="476.10" font-size="9.9" text-anchor="middle" >n= 6</text>
<path d="M254.65 580.20V577.65M248.15 577.65H261.15" stroke="#222222" stroke-width="1.3" fill="none"/>
<rect x="242.20" y="580.80" width="24.90" height="71.20" fill="#ffffff"/>
<clipPath id="c11"><rect x="242.20" y="580.80" width="24.90" height="71.20"/></clipPath>
<path clip-path="url(#c11)" d="M171.00 579.20L244.80 653.00M175.64 579.20L249.44 653.00M180.28 579.20L254.08 653.00M184.92 579.20L258.72 653.00M189.56 579.20L263.36 653.00M194.20 579.20L268.00 653.00M198.84 579.20L272.64 653.00M203.48 579.20L277.28 653.00M208.12 579.20L281.92 653.00M212.76 579.20L286.56 653.00M217.40 579.20L291.20 653.00M222.04 579.20L295.84 653.00M226.68 579.20L300.48 653.00M231.32 579.20L305.12 653.00M235.96 579.20L309.76 653.00M240.60 579.20L314.40 653.00M245.24 579.20L319.04 653.00M249.88 579.20L323.68 653.00M254.52 579.20L328.32 653.00M259.16 579.20L332.96 653.00M263.80 579.20L337.60 653.00M268.44 579.20L342.24 653.00" stroke="#1a1a1a" stroke-width="0.9" fill="none"/>
<rect x="242.20" y="580.80" width="24.90" height="71.20" fill="none" stroke="#222222" stroke-width="1.2"/>
<text x="255.55" y="574.80" font-size="9.9" text-anchor="middle" >n= 5</text>
<path d="M292.65 527.00V522.80M286.15 522.80H299.15" stroke="#444" stroke-width="1.3" fill="none"/>
<rect x="280.25" y="527.60" width="24.80" height="124.40" fill="#000000"/>
<rect x="280.25" y="527.60" width="24.80" height="124.40" fill="none" stroke="#000000" stroke-width="1.2"/>
<text x="293.55" y="520.20" font-size="9.9" text-anchor="middle" >n= 5</text>
<path d="M330.15 524.30V521.60M323.65 521.60H336.65" stroke="#222222" stroke-width="1.3" fill="none"/>
<rect x="317.75" y="524.90" width="24.80" height="127.10" fill="#ffffff"/>
<clipPath id="c12"><rect x="317.75" y="524.90" width="24.80" height="127.10"/></clipPath>
<path clip-path="url(#c12)" d="M322.71 524.30V652.00M327.67 524.30V652.00M332.63 524.30V652.00M337.59 524.30V652.00" stroke="#555" stroke-width="0.9" fill="none"/>
<rect x="317.75" y="524.90" width="24.80" height="127.10" fill="none" stroke="#222222" stroke-width="1.2"/>
<text x="331.05" y="518.00" font-size="9.9" text-anchor="middle" >n= 5</text>
<path d="M368.05 531.10V526.85M361.55 526.85H374.55" stroke="#222222" stroke-width="1.3" fill="none"/>
<rect x="355.65" y="531.70" width="24.80" height="120.30" fill="#ffffff"/>
<clipPath id="c13"><rect x="355.65" y="531.70" width="24.80" height="120.30"/></clipPath>
<path clip-path="url(#c13)" d="M233.41 530.10L356.31 653.00M238.05 530.10L360.95 653.00M242.69 530.10L365.59 653.00M247.33 530.10L370.23 653.00M251.97 530.10L374.87 653.00M256.61 530.10L379.51 653.00M261.25 530.10L384.15 653.00M265.89 530.10L388.79 653.00M270.53 530.10L393.43 653.00M275.17 530.10L398.07 653.00M279.81 530.10L402.71 653.00M284.45 530.10L407.35 653.00M289.09 530.10L411.99 653.00M293.73 530.10L416.63 653.00M298.37 530.10L421.27 653.00M303.01 530.10L425.91 653.00M307.65 530.10L430.55 653.00M312.29 530.10L435.19 653.00M316.93 530.10L439.83 653.00M321.57 530.10L444.47 653.00M326.21 530.10L449.11 653.00M330.85 530.10L453.75 653.00M335.49 530.10L458.39 653.00M340.13 530.10L463.03 653.00M344.77 530.10L467.67 653.00M349.41 530.10L472.31 653.00M354.05 530.10L476.95 653.00M358.69 530.10L481.59 653.00M363.33 530.10L486.23 653.00M367.97 530.10L490.87 653.00M372.61 530.10L495.51 653.00M377.25 530.10L500.15 653.00M381.89 530.10L504.79 653.00M356.05 530.10L233.15 653.00M360.69 530.10L237.79 653.00M365.33 530.10L242.43 653.00M369.97 530.10L247.07 653.00M374.61 530.10L251.71 653.00M379.25 530.10L256.35 653.00M383.89 530.10L260.99 653.00M388.53 530.10L265.63 653.00M393.17 530.10L270.27 653.00M397.81 530.10L274.91 653.00M402.45 530.10L279.55 653.00M407.09 530.10L284.19 653.00M411.73 530.10L288.83 653.00M416.37 530.10L293.47 653.00M421.01 530.10L298.11 653.00M425.65 530.10L302.75 653.00M430.29 530.10L307.39 653.00M434.93 530.10L312.03 653.00M439.57 530.10L316.67 653.00M444.21 530.10L321.31 653.00M448.85 530.10L325.95 653.00M453.49 530.10L330.59 653.00M458.13 530.10L335.23 653.00M462.77 530.10L339.87 653.00M467.41 530.10L344.51 653.00M472.05 530.10L349.15 653.00M476.69 530.10L353.79 653.00M481.33 530.10L358.43 653.00M485.97 530.10L363.07 653.00M490.61 530.10L367.71 653.00M495.25 530.10L372.35 653.00M499.89 530.10L376.99 653.00M504.53 530.10L381.63 653.00" stroke="#111" stroke-width="0.95" fill="none"/>
<rect x="355.65" y="531.70" width="24.80" height="120.30" fill="none" stroke="#111111" stroke-width="1.2"/>
<text x="368.95" y="523.50" font-size="9.9" text-anchor="middle" >n= 5</text>
<path d="M406.05 550.20V546.60M399.55 546.60H412.55" stroke="#222222" stroke-width="1.3" fill="none"/>
<rect x="393.80" y="550.80" width="24.50" height="101.20" fill="#c0c0c0"/>
<rect x="393.80" y="550.80" width="24.50" height="101.20" fill="none" stroke="#222222" stroke-width="1.2"/>
<text x="406.95" y="536.00" font-size="9.9" text-anchor="middle" >n= 5</text>
<text x="406.75" y="549.30" font-size="15" text-anchor="middle" >*</text>
<path d="M444.00 571.00V560.80M437.50 560.80H450.50" stroke="#222222" stroke-width="1.3" fill="none"/>
<rect x="431.85" y="571.60" width="24.30" height="80.40" fill="#666666"/>
<rect x="431.85" y="571.60" width="24.30" height="80.40" fill="none" stroke="#2a2a2a" stroke-width="1.2"/>
<text x="444.60" y="549.20" font-size="9.9" text-anchor="middle" >n= 5</text>
<text x="444.70" y="563.10" font-size="15" text-anchor="middle" >*</text>
<line x1="235.80" y1="466.60" x2="235.80" y2="652.00" stroke="#111" stroke-width="1.1" stroke-dasharray="1.7 1.08"/>
<path d="M191.70 652.00V466.60H469.30V652.00" fill="none" stroke="#000" stroke-width="2.0" stroke-linejoin="miter"/>
<line x1="184.70" y1="652.00" x2="476.30" y2="652.00" stroke="#000" stroke-width="2.0"/>
<line x1="184.70" y1="652.00" x2="191.70" y2="652.00" stroke="#000" stroke-width="1.7"/>
<text x="180.90" y="655.30" font-size="9.7" text-anchor="end" >0</text>
<line x1="184.70" y1="636.55" x2="191.70" y2="636.55" stroke="#000" stroke-width="1.7"/>
<text x="180.90" y="639.85" font-size="9.7" text-anchor="end" >200</text>
<line x1="184.70" y1="621.10" x2="191.70" y2="621.10" stroke="#000" stroke-width="1.7"/>
<text x="180.90" y="624.40" font-size="9.7" text-anchor="end" >400</text>
<line x1="184.70" y1="605.65" x2="191.70" y2="605.65" stroke="#000" stroke-width="1.7"/>
<text x="180.90" y="608.95" font-size="9.7" text-anchor="end" >600</text>
<line x1="184.70" y1="590.20" x2="191.70" y2="590.20" stroke="#000" stroke-width="1.7"/>
<text x="180.90" y="593.50" font-size="9.7" text-anchor="end" >800</text>
<line x1="184.70" y1="574.75" x2="191.70" y2="574.75" stroke="#000" stroke-width="1.7"/>
<text x="180.90" y="578.05" font-size="9.7" text-anchor="end" >1000</text>
<line x1="184.70" y1="559.30" x2="191.70" y2="559.30" stroke="#000" stroke-width="1.7"/>
<text x="180.90" y="562.60" font-size="9.7" text-anchor="end" >1200</text>
<line x1="184.70" y1="543.85" x2="191.70" y2="543.85" stroke="#000" stroke-width="1.7"/>
<text x="180.90" y="547.15" font-size="9.7" text-anchor="end" >1400</text>
<line x1="184.70" y1="528.40" x2="191.70" y2="528.40" stroke="#000" stroke-width="1.7"/>
<text x="180.90" y="531.70" font-size="9.7" text-anchor="end" >1600</text>
<line x1="184.70" y1="512.95" x2="191.70" y2="512.95" stroke="#000" stroke-width="1.7"/>
<text x="180.90" y="516.25" font-size="9.7" text-anchor="end" >1800</text>
<line x1="184.70" y1="497.50" x2="191.70" y2="497.50" stroke="#000" stroke-width="1.7"/>
<text x="180.90" y="500.80" font-size="9.7" text-anchor="end" >2000</text>
<line x1="184.70" y1="482.05" x2="191.70" y2="482.05" stroke="#000" stroke-width="1.7"/>
<text x="180.90" y="485.35" font-size="9.7" text-anchor="end" >2200</text>
<line x1="469.30" y1="652.00" x2="476.30" y2="652.00" stroke="#000" stroke-width="1.7"/>
<text x="478.60" y="655.30" font-size="9.7" text-anchor="start" >0</text>
<line x1="469.30" y1="618.26" x2="476.30" y2="618.26" stroke="#000" stroke-width="1.7"/>
<text x="478.60" y="621.56" font-size="9.7" text-anchor="start" >20</text>
<line x1="469.30" y1="584.52" x2="476.30" y2="584.52" stroke="#000" stroke-width="1.7"/>
<text x="478.60" y="587.82" font-size="9.7" text-anchor="start" >40</text>
<line x1="469.30" y1="550.78" x2="476.30" y2="550.78" stroke="#000" stroke-width="1.7"/>
<text x="478.60" y="554.08" font-size="9.7" text-anchor="start" >60</text>
<line x1="469.30" y1="517.04" x2="476.30" y2="517.04" stroke="#000" stroke-width="1.7"/>
<text x="478.60" y="520.34" font-size="9.7" text-anchor="start" >80</text>
<line x1="469.30" y1="483.30" x2="476.30" y2="483.30" stroke="#000" stroke-width="1.7"/>
<text x="478.60" y="486.60" font-size="9.7" text-anchor="start" >100</text>
<text transform="translate(145.70 557.40) rotate(-90) scale(1.085 1)" font-size="9.7" text-anchor="middle">RGCs/mm² (mean ± SEM)</text>
<text transform="translate(502.50 557.50) rotate(90) scale(1.045 1)" font-size="9.7" text-anchor="middle">Survival (%)</text>
<text x="138.60" y="470.70" font-size="13" text-anchor="start" >e</text>
<text x="216.70" y="665.30" font-size="10.25" text-anchor="middle" >Intact</text>
<text transform="translate(255.05 664.60) scale(0.97 1)" font-size="10.25" text-anchor="middle" letter-spacing="-0.4">PBS</text>
<text x="293.80" y="665.20" font-size="10.25" text-anchor="middle" >Gal</text>
<text x="293.50" y="676.80" font-size="10.0" text-anchor="middle" >+</text>
<text transform="translate(293.90 689.00) scale(0.97 1)" font-size="10.25" text-anchor="middle" letter-spacing="-0.4">PBS</text>
<text x="330.90" y="665.20" font-size="10.25" text-anchor="middle" >Gal</text>
<text x="333.05" y="676.80" font-size="10.0" text-anchor="middle" >+</text>
<text x="330.60" y="689.00" font-size="10.25" text-anchor="middle" letter-spacing="0.1">4-DAMP</text>
<text x="334.90" y="701.60" font-size="10.25" text-anchor="middle" letter-spacing="0.5">(M3)</text>
<text x="369.85" y="665.80" font-size="10.25" text-anchor="middle" >Gal</text>
<text x="371.80" y="677.90" font-size="10.0" text-anchor="middle" >+</text>
<text transform="translate(372.55 691.20) scale(0.97 1)" font-size="10.25" text-anchor="middle" >DX 116</text>
<text x="373.10" y="703.50" font-size="10.25" text-anchor="middle" letter-spacing="0.5">(M2)</text>
<text x="409.60" y="664.70" font-size="10.25" text-anchor="middle" >Gal</text>
<text x="411.90" y="677.30" font-size="10.0" text-anchor="middle" >+</text>
<text x="412.10" y="690.60" font-size="10.25" text-anchor="middle" letter-spacing="-0.2">TRO</text>
<text x="412.35" y="703.20" font-size="10.25" text-anchor="middle" letter-spacing="0.5">(M4)</text>
<text x="447.60" y="664.70" font-size="10.25" text-anchor="middle" >Gal</text>
<text x="449.90" y="677.30" font-size="10.0" text-anchor="middle" >+</text>
<text transform="translate(450.30 690.60) scale(0.97 1)" font-size="10.25" text-anchor="middle" letter-spacing="-0.4">PRZ</text>
<text x="451.30" y="703.20" font-size="10.25" text-anchor="middle" letter-spacing="0.5">(M1)</text>
</svg>
</body></html>
